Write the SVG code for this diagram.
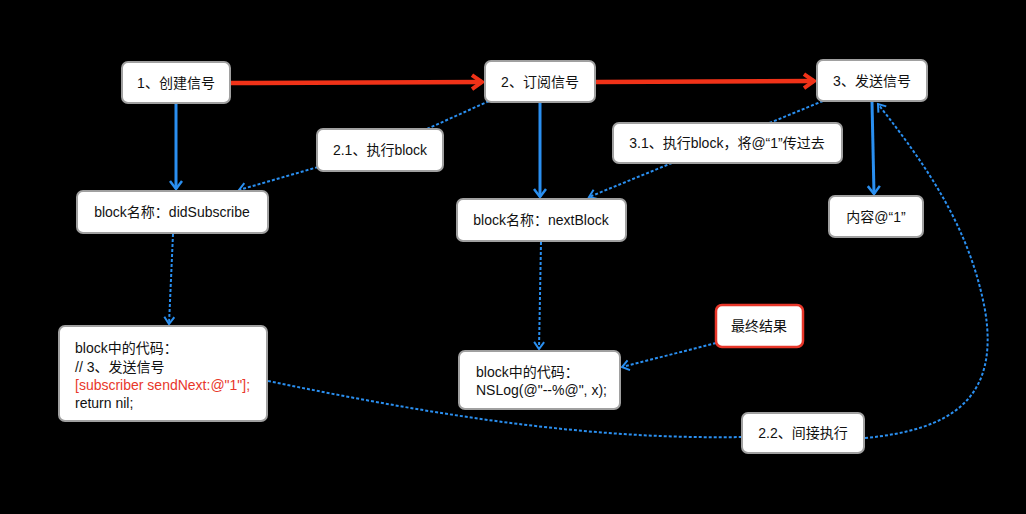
<svg xmlns="http://www.w3.org/2000/svg" width="1026" height="514" viewBox="0 0 1026 514">
<style>
.box{fill:#fff;stroke:#a0a0a0;stroke-width:2}
.boxr{fill:#fff;stroke:#e8372a;stroke-width:2.5}
text{font-family:"Liberation Sans","Noto Sans CJK SC",sans-serif;font-size:14px;fill:#111}
.c{text-anchor:middle}
.red{fill:#e8372a}
.ra{fill:none;stroke:#f03218;stroke-width:4.5;marker-end:url(#mr)}
.ba{fill:none;stroke:#2a8ff0;stroke-width:3;marker-end:url(#mb)}
.bd{fill:none;stroke:#2a8ff0;stroke-width:2;stroke-dasharray:3 2}
.bda{fill:none;stroke:#2a8ff0;stroke-width:2;stroke-dasharray:3 2;marker-end:url(#md)}
</style>
<defs>
<marker id="mr" markerUnits="userSpaceOnUse" markerWidth="20" markerHeight="20" refX="14" refY="9" orient="auto"><path d="M4,2 L14,9 L4,16" fill="none" stroke="#f03218" stroke-width="4"/></marker>
<marker id="mb" markerUnits="userSpaceOnUse" markerWidth="16" markerHeight="16" refX="11" refY="7" orient="auto"><path d="M3,1 L11,7 L3,13" fill="none" stroke="#2a8ff0" stroke-width="2.5"/></marker>
<marker id="md" markerUnits="userSpaceOnUse" markerWidth="14" markerHeight="14" refX="9" refY="6" orient="auto"><path d="M2,1 L9,6 L2,11" fill="none" stroke="#2a8ff0" stroke-width="2"/></marker>
</defs>
<rect width="1026" height="514" fill="#000"/>
<g id="connectors">
<path class="ra" d="M231,83 L482,82"/>
<path class="ra" d="M596,82 L814,81"/>
<path class="ba" d="M176,104 L176,189"/>
<path class="ba" d="M540,103 L540,197"/>
<path class="ba" d="M872,102 L874,194"/>
<path class="bd" d="M489,101 L427,129"/>
<path class="bda" d="M318,167 L239,190"/>
<path class="bd" d="M823,101 L767,124"/>
<path class="bda" d="M672,163 L589,197"/>
<path class="bda" d="M173,234 L169,324"/>
<path class="bda" d="M541,242 L539,349"/>
<path class="bda" d="M716,343 L622,367"/>
<path class="bd" d="M268,381 C420,412 580,440 742,437"/>
<path class="bda" d="M865,438 C950,430 1000,400 985,310 C970,230 930,170 878,104"/>
</g>
<g id="n1"><rect class="box" x="122" y="62" width="108" height="41" rx="6"/><text class="c" x="176" y="88">1、创建信号</text></g>
<g id="n2"><rect class="box" x="485" y="61" width="110" height="41" rx="6"/><text class="c" x="540" y="87">2、订阅信号</text></g>
<g id="n3"><rect class="box" x="817" y="60" width="110" height="41" rx="6"/><text class="c" x="872" y="86">3、发送信号</text></g>
<g id="n21"><rect class="box" x="317" y="129" width="126" height="42" rx="6"/><text class="c" x="380" y="155">2.1、执行block</text></g>
<g id="n31"><rect class="box" x="613" y="123" width="229" height="40" rx="6"/><text class="c" x="727" y="148">3.1、执行block，将@“1”传过去</text></g>
<g id="didSub"><rect class="box" x="77" y="191" width="191" height="42" rx="6"/><text class="c" x="172" y="217">block名称：didSubscribe</text></g>
<g id="nextBlock"><rect class="box" x="457" y="199" width="169" height="42" rx="6"/><text class="c" x="541" y="225">block名称：nextBlock</text></g>
<g id="content"><rect class="box" x="829" y="196" width="94" height="41" rx="6"/><text class="c" x="876" y="222">内容@“1”</text></g>
<g id="code1"><rect class="box" x="59" y="326" width="208" height="95" rx="6"/>
<text x="75" y="353">block中的代码：</text>
<text x="75" y="372">// 3、发送信号</text>
<text class="red" x="75" y="390">[subscriber sendNext:@"1"];</text>
<text x="75" y="408">return nil;</text></g>
<g id="code2"><rect class="box" x="459" y="351" width="161" height="58" rx="6"/>
<text x="476" y="377">block中的代码：</text>
<text x="476" y="395">NSLog(@"--%@", x);</text></g>
<g id="result"><rect class="boxr" x="716" y="305" width="87" height="42" rx="6"/><text class="c" x="759" y="331">最终结果</text></g>
<g id="n22"><rect class="box" x="742" y="413" width="122" height="40" rx="6"/><text class="c" x="803" y="438">2.2、间接执行</text></g>
</svg>
